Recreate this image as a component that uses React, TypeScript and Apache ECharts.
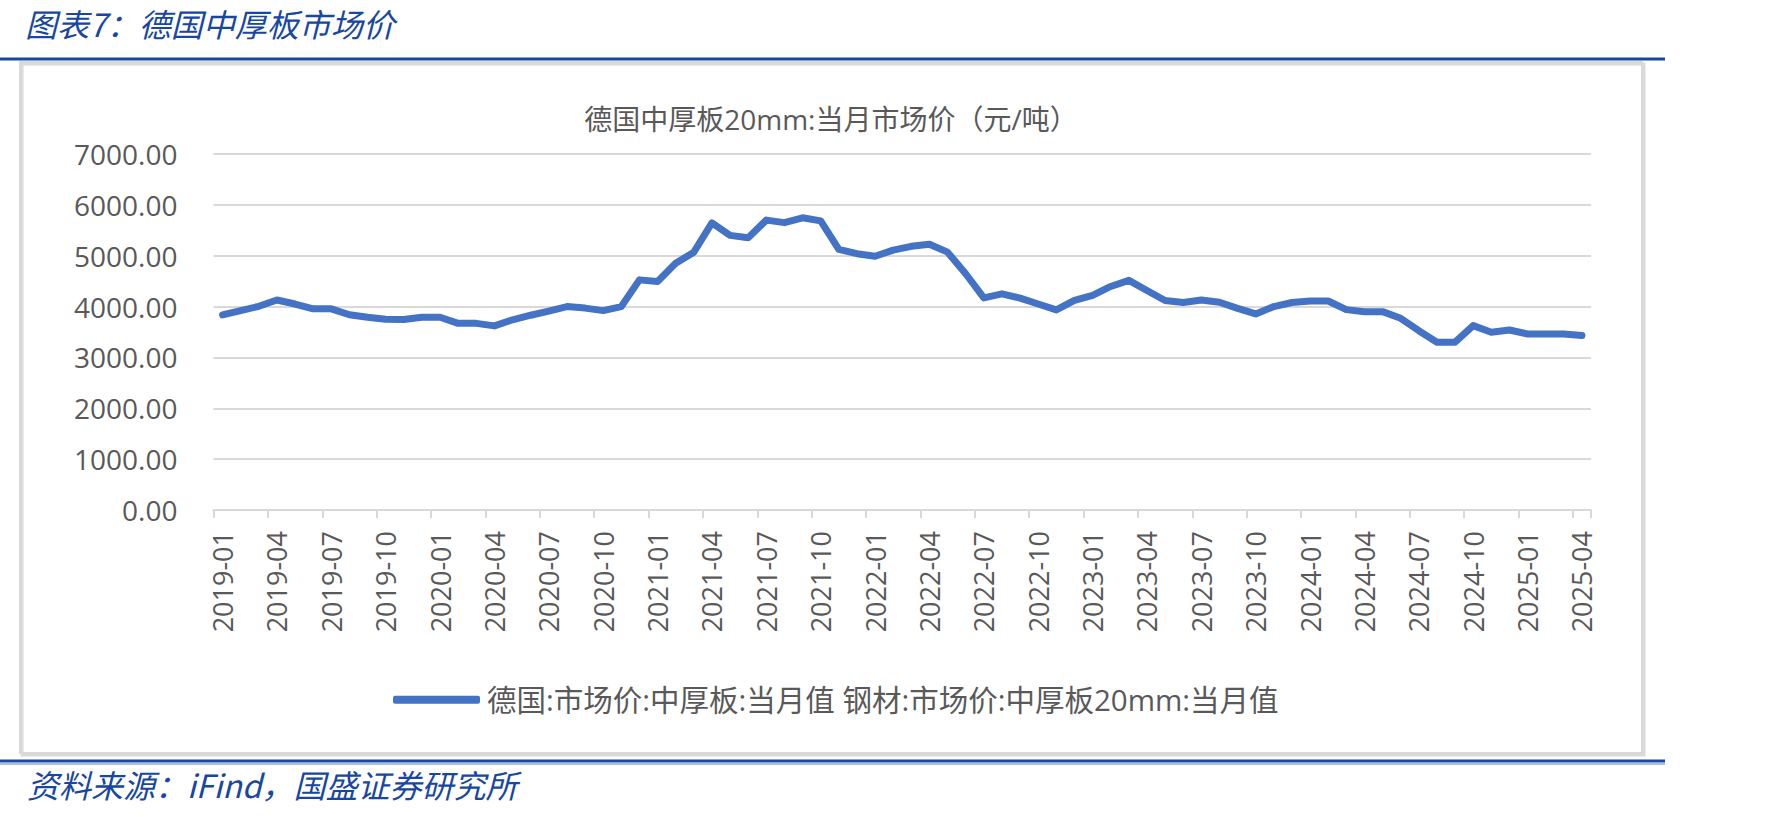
import React, { useEffect, useRef } from "react";
import * as echarts from "echarts";

const categories: string[] = [
  "2019-01","2019-02","2019-03","2019-04","2019-05","2019-06","2019-07","2019-08","2019-09","2019-10","2019-11","2019-12",
  "2020-01","2020-02","2020-03","2020-04","2020-05","2020-06","2020-07","2020-08","2020-09","2020-10","2020-11","2020-12",
  "2021-01","2021-02","2021-03","2021-04","2021-05","2021-06","2021-07","2021-08","2021-09","2021-10","2021-11","2021-12",
  "2022-01","2022-02","2022-03","2022-04","2022-05","2022-06","2022-07","2022-08","2022-09","2022-10","2022-11","2022-12",
  "2023-01","2023-02","2023-03","2023-04","2023-05","2023-06","2023-07","2023-08","2023-09","2023-10","2023-11","2023-12",
  "2024-01","2024-02","2024-03","2024-04","2024-05","2024-06","2024-07","2024-08","2024-09","2024-10","2024-11","2024-12",
  "2025-01","2025-02","2025-03","2025-04",
];

const priceValues: number[] = [
  3835, 3920, 4005, 4130, 4050, 3955, 3955, 3840, 3790, 3750, 3745, 3790,
  3790, 3670, 3670, 3620, 3740, 3830, 3910, 4000, 3970, 3920, 4000, 4525,
  4495, 4850, 5070, 5645, 5400, 5355, 5700, 5650, 5745, 5685, 5125, 5040,
  4990, 5110, 5185, 5225, 5070, 4645, 4170, 4250, 4165, 4050, 3935, 4120,
  4220, 4395, 4515, 4315, 4120, 4080, 4130, 4085, 3965, 3855, 4000, 4080,
  4110, 4110, 3940, 3900, 3900, 3770, 3525, 3300, 3300, 3625, 3495, 3540,
  3460, 3460, 3460, 3430,
];

const seriesName = "德国:市场价:中厚板:当月值 钢材:市场价:中厚板20mm:当月值";
const chartTitle = "德国中厚板20mm:当月市场价（元/吨）";
const figureTitle = "图表7：德国中厚板市场价";
const sourceText = "资料来源：iFind，国盛证券研究所";

const yMin = 0;
const yMax = 7000;
const yInterval = 1000;

const BLUE_DARK = "#1747A0";
const TEXT_GRAY = "#595959";
const GRID_GRAY = "#D9D9D9";
const LINE_BLUE = "#4472C4";
const FONT = "'Open Sans', 'Noto Sans CJK SC', sans-serif";

export default function App() {
  const ref = useRef<HTMLDivElement>(null);

  useEffect(() => {
    document.body.style.margin = "0";
    document.body.style.overflow = "hidden";
    if (!ref.current) return;
    const chart = echarts.init(ref.current, undefined, { renderer: "svg" });
    chart.setOption({
      animation: false,
      backgroundColor: "#ffffff",
      grid: { left: 213.5, right: 193, top: 154, bottom: 307, containLabel: false },
      xAxis: {
        type: "category",
        data: categories,
        boundaryGap: true,
        axisLine: { show: true, lineStyle: { color: GRID_GRAY, width: 2 } },
        axisTick: { show: true, interval: 2, length: 8, lineStyle: { color: GRID_GRAY, width: 2 } },
        axisLabel: {
          interval: 2,
          rotate: 90,
          margin: 21,
          color: TEXT_GRAY,
          fontSize: 27,
          fontFamily: FONT,
        },
        splitLine: { show: false },
      },
      yAxis: {
        type: "value",
        min: yMin,
        max: yMax,
        interval: yInterval,
        axisLine: { show: false },
        axisTick: { show: false },
        axisLabel: {
          color: TEXT_GRAY,
          fontSize: 28,
          fontFamily: FONT,
          margin: 36,
          formatter: (v: number) => v.toFixed(2),
        },
        splitLine: { show: true, lineStyle: { color: GRID_GRAY, width: 2 } },
      },
      legend: {
        show: true,
        left: 393,
        top: 685,
        padding: 0,
        icon: "roundRect",
        itemWidth: 87,
        itemHeight: 8,
        textStyle: { color: TEXT_GRAY, fontSize: 29.5, fontFamily: FONT, padding: [0, 0, 0, 2] },
        data: [seriesName],
      },
      series: [
        {
          name: seriesName,
          type: "line",
          data: priceValues,
          showSymbol: false,
          symbol: "none",
          lineStyle: { color: LINE_BLUE, width: 7, cap: "round", join: "round" },
          itemStyle: { color: LINE_BLUE },
        },
      ],
      graphic: [
        {
          type: "text",
          left: 25,
          top: 7,
          style: {
            text: figureTitle,
            fill: BLUE_DARK,
            fontSize: 32,
            fontStyle: "italic",
            fontFamily: "'Noto Sans CJK SC', sans-serif",
          },
        },
        {
          type: "line",
          shape: { x1: 0, y1: 59, x2: 1665, y2: 59 },
          style: { stroke: BLUE_DARK, lineWidth: 3 },
        },
        {
          type: "rect",
          shape: { x: 22, y: 64, width: 1622, height: 691 },
          style: { fill: "none", stroke: "#DADADA", lineWidth: 3 },
          z: -1,
        },
        {
          type: "rect",
          shape: { x: 20, y: 62, width: 1622, height: 691 },
          style: { fill: "none", stroke: GRID_GRAY, lineWidth: 2 },
          z: -1,
        },
        {
          type: "text",
          x: 831,
          y: 119,
          style: {
            text: chartTitle,
            fill: TEXT_GRAY,
            fontSize: 28,
            fontFamily: FONT,
            align: "center",
            verticalAlign: "middle",
          },
        },
        {
          type: "line",
          shape: { x1: 0, y1: 761, x2: 1665, y2: 761 },
          style: { stroke: BLUE_DARK, lineWidth: 3 },
        },
        {
          type: "line",
          shape: { x1: 0, y1: 764, x2: 1665, y2: 764 },
          style: { stroke: "#8FA9D6", lineWidth: 1.5 },
        },
        {
          type: "text",
          left: 27,
          top: 768,
          style: {
            text: sourceText,
            fill: BLUE_DARK,
            fontSize: 32,
            fontStyle: "italic",
            fontFamily: "'Noto Sans CJK SC', sans-serif",
          },
        },
      ],
    });
    return () => {
      chart.dispose();
    };
  }, []);

  return <div ref={ref} style={{ width: 1784, height: 817 }} />;
}
